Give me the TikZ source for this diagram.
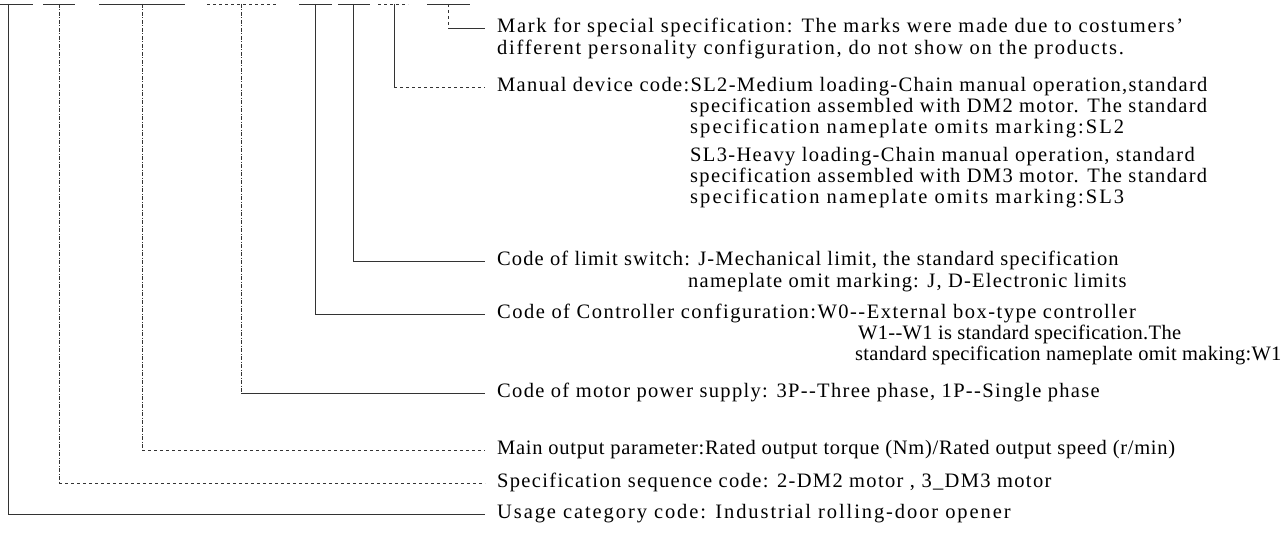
\documentclass[tikz,border=0pt]{standalone}
\usepackage{fontspec}
\setmainfont{Liberation Serif}
\usetikzlibrary{calc}

\begin{document}
\begin{tikzpicture}[x=1pt,y=-1pt,
  ls/.style={font=\fontsize{20.5}{21}\selectfont\addfontfeatures{LetterSpace=#1}},
  every node/.style={anchor=west,inner sep=0pt,text height=14pt,text depth=4.5pt,ls=6.5},
  bar/.style={draw=black!80,line width=.8pt},
  dashdot/.style={dash pattern=on 4pt off 1.5pt on 1pt off 1.5pt},
  lead/.style={bar,shorten >=12pt}]
  \useasboundingbox (0,0) rectangle (1288,535);
  % text lines
  \path (497,28) node[ls=8] (mark) {Mark for special specification: The marks were made due to costumers'}
  (497,50) node[ls=8.5] (mark2) {different personality configuration, do not show on the products.}
  (497,87) node (manual) {Manual device code:SL2-Medium loading-Chain manual operation,standard}
  (690,108) node (manual2) {specification assembled with DM2 motor. The standard}
  (690,129) node[ls=10] (manual3) {specification nameplate omits marking:SL2}
  (690,157) node (manual4) {SL3-Heavy loading-Chain manual operation, standard}
  (690,178) node (manual5) {specification assembled with DM3 motor. The standard}
  (690,199) node[ls=10] (manual6) {specification nameplate omits marking:SL3}
  (497,261) node[ls=5.5] (limit) {Code of limit switch: J-Mechanical limit, the standard specification}
  (688,283) node[ls=6] (limit2) {nameplate omit marking: J, D-Electronic limits}
  (497,314) node[ls=7.2] (ctrl) {Code of Controller configuration:W0-{}-External box-type controller}
  (858,335) node[ls=1.5] (ctrl2) {W1-{}-W1 is standard specification.The}
  (855,356) node[ls=1.5] (ctrl3) {standard specification nameplate omit making:W1}
  (497,393) node (power) {Code of motor power supply: 3P-{}-Three phase, 1P-{}-Single phase}
  (497,450) node[ls=3.5] (output) {Main output parameter:Rated output torque (Nm)/Rated output speed (r/min)}
  (497,483) node (seq) {Specification sequence code: 2-DM2 motor , 3\_DM3 motor}
  (497,514) node[ls=9.3] (usage) {Usage category code: Industrial rolling-door opener};
  % code segments
  \path (8,4) coordinate (c1) (59,4) coordinate (c2) (142,4) coordinate (c3) (241,4) coordinate (c4)
  (315,4) coordinate (c5) (353,4) coordinate (c6) (394,4) coordinate (c7) (448,4) coordinate (c8);
  \draw[bar] (0,4) -- (33,4) (43,4) -- (75,4) (99,4) -- (185,4) (299,4) -- (332,4)
  (338,4) -- (370,4) (427,4) -- (470,4);
  \draw[bar,dashed] (207,4) -- (277,4) (378,4) -- (408,4);
  % leaders
  \draw[bar] (c1) -- (c1 |- usage.west);
  \draw[lead] (c1 |- usage.west) -- (usage.west);
  \draw[bar,dashdot] (c2) -- (c2 |- seq.west);
  \draw[lead,dashed] (c2 |- seq.west) -- (seq.west);
  \draw[bar,dashdot] (c3) -- (c3 |- output.west);
  \draw[lead,dashed] (c3 |- output.west) -- (output.west);
  \draw[bar,dashdot] (c4) -- (c4 |- power.west);
  \draw[lead] (c4 |- power.west) -- (power.west);
  \draw[lead] (c5) |- (ctrl.west);
  \draw[lead] (c6) |- (limit.west);
  \draw[bar] (c7) -- (c7 |- manual.west);
  \draw[lead,dashed] (c7 |- manual.west) -- (manual.west);
  \draw[bar,dashed] (c8) -- (c8 |- mark.west);
  \draw[lead] (c8 |- mark.west) -- (mark.west);
\end{tikzpicture}
\end{document}
